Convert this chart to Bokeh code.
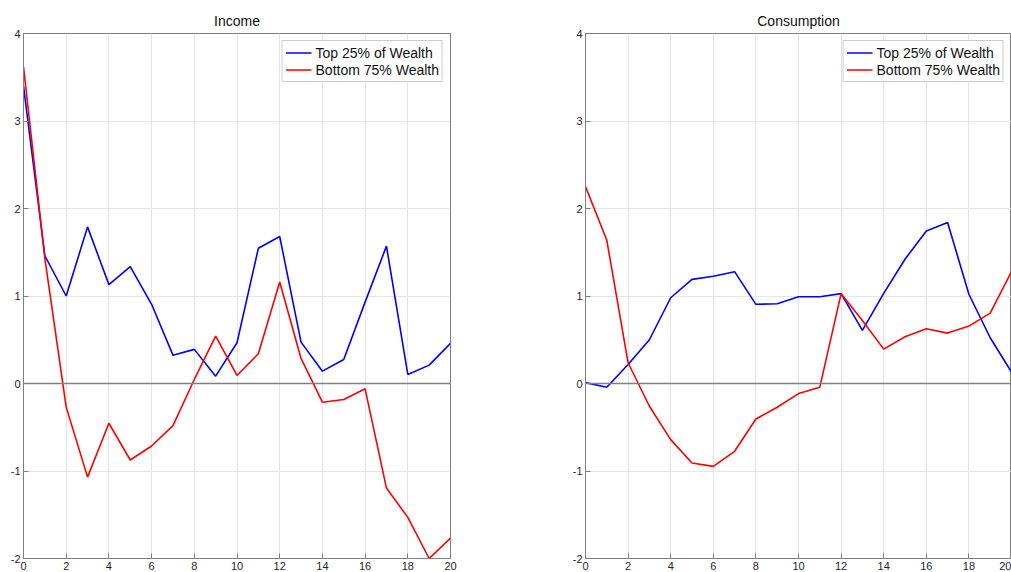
from bokeh.plotting import figure
from bokeh.layouts import row
from bokeh.models import Span, FixedTicker, Range1d, Legend, LegendItem
from bokeh.embed import file_html
from bokeh.resources import INLINE

periods = list(range(21))
income_top = [3.40, 1.46, 1.00, 1.79, 1.13, 1.335, 0.905, 0.324, 0.39, 0.084, 0.466,
              1.545, 1.68, 0.473, 0.141, 0.275, 0.93, 1.57, 0.103, 0.21, 0.458]
income_bottom = [3.62, 1.43, -0.27, -1.07, -0.454, -0.874, -0.714, -0.481, 0.046, 0.542, 0.092,
                 0.34, 1.16, 0.286, -0.214, -0.183, -0.061, -1.195, -1.53, -2.00, -1.767]
cons_top = [0.01, -0.042, 0.218, 0.50, 0.98, 1.19, 1.225, 1.278, 0.905, 0.912, 0.992,
            0.992, 1.027, 0.607, 1.03, 1.42, 1.744, 1.84, 1.02, 0.523, 0.13]
cons_bottom = [2.25, 1.637, 0.237, -0.26, -0.641, -0.908, -0.947, -0.775, -0.405, -0.271, -0.115,
               -0.042, 1.027, 0.72, 0.393, 0.534, 0.626, 0.576, 0.656, 0.805, 1.28]
x_ticks = [0, 2, 4, 6, 8, 10, 12, 14, 16, 18, 20]
y_ticks = [-2, -1, 0, 1, 2, 3, 4]
y_tick_labels = {-2: "-2", -1: "-1", 0: "0", 1: "1", 2: "2", 3: "3", 4: "4"}
titles = ["Income", "Consumption"]
labels = ["Top 25% of Wealth", "Bottom 75% Wealth"]

FONT = "Liberation Sans"
AX = "#7f7f7f"
TXT = "#262626"


def style_axis(ax, ticks):
    ax.ticker = FixedTicker(ticks=ticks)
    ax.axis_line_color = AX
    ax.major_tick_line_color = AX
    ax.major_tick_in = 5
    ax.major_tick_out = 0
    ax.minor_tick_line_color = None
    ax.major_label_text_font = FONT
    ax.major_label_text_color = TXT
    ax.major_label_text_font_size = "11px"
    ax.major_label_standoff = 3


def make_fig(title, top, bottom, width, mbl, mbr):
    p = figure(width=width, height=572, output_backend="svg", toolbar_location=None,
               x_range=Range1d(0, 20), y_range=Range1d(-2, 4),
               min_border_left=mbl, min_border_right=mbr, min_border_top=33,
               min_border_bottom=10)
    p.title.text = title
    p.title.align = "center"
    p.title.text_font = FONT
    p.title.text_font_size = "14px"
    p.title.text_font_style = "normal"
    p.title.text_color = "#111111"
    p.background_fill_color = "white"
    p.border_fill_color = "white"
    p.outline_line_color = AX
    for ax in p.xaxis:
        style_axis(ax, x_ticks)
    for ax in p.yaxis:
        style_axis(ax, y_ticks)
        ax.major_label_overrides = y_tick_labels
    p.xgrid.ticker = FixedTicker(ticks=x_ticks)
    p.ygrid.ticker = FixedTicker(ticks=y_ticks)
    p.xgrid.grid_line_color = "#e6e6e6"
    p.ygrid.grid_line_color = "#e6e6e6"
    p.add_layout(Span(location=0, dimension="width", line_color="#808080", line_width=1.3))
    r1 = p.line(periods, top, line_color="#0000ff", line_width=1.6)
    r2 = p.line(periods, bottom, line_color="#ff0000", line_width=1.6)
    leg = Legend(items=[LegendItem(label=labels[0], renderers=[r1]),
                        LegendItem(label=labels[1], renderers=[r2])],
                 location="top_right")
    leg.label_text_font = FONT
    leg.label_text_font_size = "14px"
    leg.label_text_color = "#111111"
    leg.label_height = 17
    leg.glyph_height = 17
    leg.glyph_width = 26
    leg.label_standoff = 4
    leg.spacing = 0
    leg.padding = 3
    leg.margin = 7
    leg.border_line_color = "#999999"
    leg.border_line_width = 1
    leg.background_fill_color = "white"
    leg.background_fill_alpha = 1
    p.add_layout(leg, "center")
    return p


p1 = make_fig(titles[0], income_top, income_bottom, 555, 23, 105)
p2 = make_fig(titles[1], cons_top, cons_bottom, 456, 30, 0)
p = row(p1, p2)

open("out.html", "w").write(file_html(p, INLINE))
